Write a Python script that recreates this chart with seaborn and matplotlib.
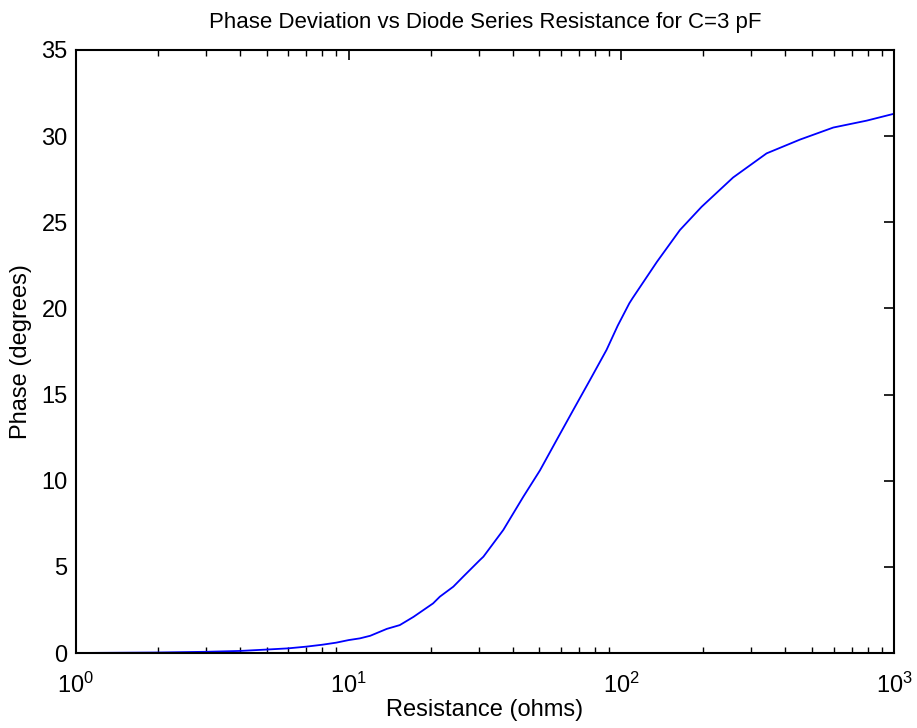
import matplotlib
matplotlib.use("Agg")
import matplotlib.pyplot as plt
import seaborn as sns
import pandas as pd
import numpy as np
from matplotlib.ticker import LogLocator, NullFormatter, MultipleLocator

resistance = [1, 2, 3, 4, 5, 6, 7, 8, 9, 10, 11, 12, 13.8, 15.4, 17.3, 20.4, 21.6,
              24.2, 26.3, 30.3, 31.2, 36.9, 43.7, 50.3, 57.9, 66.6, 76.7, 88.3,
              97, 107, 110, 135, 164, 197, 257, 341, 452, 599, 794, 1000]
phase = [0.0, 0.03, 0.07, 0.12, 0.2, 0.27, 0.37, 0.48, 0.6, 0.75, 0.85, 1.0, 1.4, 1.62,
         2.1, 2.88, 3.27, 3.85, 4.43, 5.4, 5.59, 7.14, 9.07, 10.6, 12.36, 14.1, 15.84,
         17.6, 19.0, 20.3, 20.6, 22.7, 24.55, 25.9, 27.6, 29.0, 29.8, 30.5, 30.9, 31.3]

df = pd.DataFrame({"Resistance": resistance, "Phase": phase})

sns.set_style("white")
plt.rcParams["font.family"] = ["Liberation Sans", "DejaVu Sans"]
plt.rcParams["mathtext.fontset"] = "custom"
plt.rcParams["mathtext.rm"] = "Liberation Sans"
plt.rcParams["mathtext.default"] = "regular"
for k in ["text.color", "axes.labelcolor", "xtick.color", "ytick.color"]:
    plt.rcParams[k] = "black"

fig = plt.figure(figsize=(9.17, 7.28), dpi=100)
ax = fig.add_axes([76/917, 75/728, (894-76)/917, (653-50)/728])

sns.lineplot(data=df, x="Resistance", y="Phase", ax=ax, color="#0000FF", linewidth=1.3)

ax.set_xscale("log")
ax.set_xlim(1, 1000)
ax.set_ylim(0, 35)
ax.yaxis.set_major_locator(MultipleLocator(5))
ax.xaxis.set_major_locator(LogLocator(base=10, numticks=10))
ax.xaxis.set_minor_locator(LogLocator(base=10, subs=np.arange(2, 10), numticks=20))
ax.xaxis.set_minor_formatter(NullFormatter())

for s in ax.spines.values():
    s.set_visible(True)
    s.set_color("black")
    s.set_linewidth(1.5)

ax.tick_params(axis="both", which="major", direction="in", length=7, width=1.2,
               top=True, right=True, labelsize=17, colors="black")
ax.tick_params(axis="y", which="major", pad=6)
ax.tick_params(axis="x", which="major", pad=14)
ax.tick_params(axis="x", which="minor", direction="in", length=4, width=1.0,
               top=True, bottom=True)

ax.set_title("Phase Deviation vs Diode Series Resistance for C=3 pF", fontsize=16, pad=16)
ax.set_xlabel("Resistance (ohms)", fontsize=17, labelpad=1)
ax.set_ylabel("Phase (degrees)", fontsize=17, labelpad=7)

fig.savefig("out.png", dpi=100, facecolor="white")
